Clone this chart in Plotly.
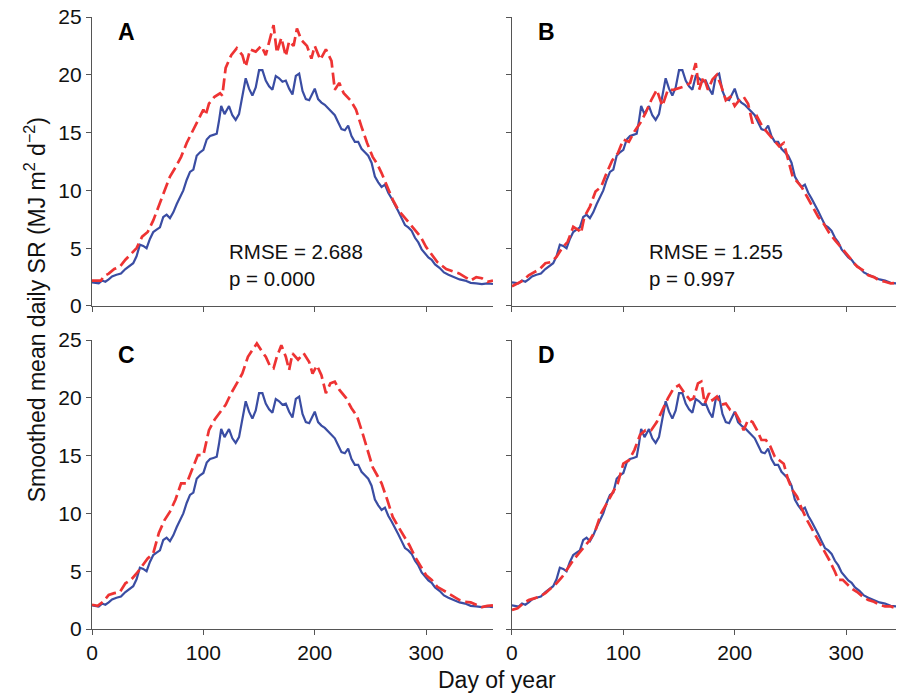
import plotly.graph_objects as go
from plotly.subplots import make_subplots

# observed smoothed daily SR (same in every panel)
obs_days = [0, 3, 6, 9, 12, 15, 18, 22, 26, 30, 34, 37, 40, 43, 46, 49, 52, 55, 58, 61,
            64, 67, 70, 73, 76, 79, 82, 85, 88, 91, 94, 97, 100, 103, 106, 109, 112, 114,
            116, 119, 121, 123, 126, 129, 132, 135, 138, 141, 144, 147, 150, 153, 156,
            159, 162, 165, 168, 171, 174, 177, 180, 183, 186, 189, 192, 195, 198, 200,
            203, 206, 209, 212, 215, 218, 221, 224, 227, 230, 233, 236, 239, 242, 245,
            248, 251, 254, 257, 260, 263, 266, 269, 272, 275, 278, 281, 284, 287, 290,
            293, 296, 299, 302, 305, 308, 312, 316, 320, 325, 330, 335, 340, 345, 350,
            355, 360]
obs_sr = [2.05, 2.0, 1.95, 2.2, 2.1, 2.3, 2.55, 2.7, 2.8, 3.2, 3.5, 3.7, 4.3, 5.3, 5.2,
          5.0, 5.8, 6.4, 6.6, 6.8, 7.7, 7.9, 7.6, 8.1, 8.8, 9.4, 10.0, 10.9, 11.6, 11.8,
          13.0, 13.3, 13.5, 14.4, 14.7, 14.8, 14.9, 16.0, 17.3, 16.6, 16.9, 17.3, 16.5,
          16.1, 16.6, 18.0, 19.7, 18.8, 18.2, 18.9, 20.4, 20.4, 19.5, 19.0, 18.7, 19.9,
          19.7, 19.4, 19.5, 18.8, 18.3, 19.9, 20.1, 18.6, 17.9, 17.8, 18.5, 18.8, 17.9,
          17.6, 17.4, 17.1, 16.8, 16.5, 15.9, 15.3, 15.2, 15.6, 14.7, 14.2, 14.2, 13.6,
          13.3, 13.0, 12.4, 11.2, 10.7, 10.3, 10.5, 9.8, 9.3, 8.8, 8.2, 7.6, 7.0, 6.8,
          6.5, 5.9, 5.5, 4.9, 4.5, 4.2, 4.0, 3.6, 3.3, 2.9, 2.7, 2.5, 2.3, 2.2, 2.0,
          1.95, 1.9, 1.95, 1.9]

# modelled series, one per panel
days_a = [0, 4, 8, 11, 15, 20, 25, 30, 35, 40, 45, 50, 55, 60, 65, 70, 75, 80, 85, 90,
          95, 100, 102, 105, 110, 115, 117, 120, 125, 130, 135, 138, 142, 147, 152, 156,
          160, 163, 166, 170, 174, 177, 181, 184, 188, 193, 197, 200, 205, 210, 215, 218,
          222, 226, 232, 237, 242, 247, 252, 256, 260, 265, 270, 275, 280, 285, 290, 295,
          300, 305, 310, 318, 325, 330, 335, 340, 345, 350, 355, 360]
mod_a = [2.2, 2.2, 2.2, 2.6, 2.8, 3.2, 3.4, 4.0, 4.5, 5.0, 6.0, 6.4, 7.4, 8.7, 9.9, 11.2,
         12.0, 12.9, 14.1, 15.1, 16.1, 17.0, 16.5, 17.5, 18.1, 18.4, 18.2, 20.6, 21.7,
         22.3, 21.7, 20.7, 22.2, 22.0, 22.5, 21.7, 23.2, 24.3, 21.9, 23.2, 21.6, 22.9,
         22.5, 24.0, 23.0, 22.5, 21.4, 22.5, 21.3, 22.2, 21.2, 18.7, 19.3, 18.4, 17.8,
         17.0, 15.5, 14.1, 12.9, 12.3, 11.5, 10.3, 9.2, 8.3, 7.7, 7.1, 6.6, 6.0, 5.1,
         4.4, 3.8, 3.2, 2.95, 2.8, 2.5, 2.2, 2.5, 2.4, 2.1, 2.2]

days_b = [0, 5, 10, 15, 20, 25, 30, 35, 40, 45, 50, 55, 60, 62, 65, 70, 75, 80, 85, 90,
          95, 100, 105, 110, 115, 120, 125, 130, 135, 140, 145, 150, 155, 160, 165, 168,
          172, 176, 180, 184, 188, 192, 196, 200, 204, 208, 212, 216, 220, 225, 230, 235,
          240, 244, 248, 252, 256, 260, 265, 270, 275, 280, 285, 290, 295, 300, 305, 310,
          315, 320, 325, 330, 335, 340, 345, 350, 355, 360]
mod_b = [1.7, 1.95, 2.2, 2.65, 2.95, 3.2, 3.7, 3.8, 4.25, 5.0, 5.55, 6.85, 6.55, 6.3,
         7.7, 8.6, 9.9, 10.3, 11.5, 12.6, 13.2, 14.4, 14.2, 15.1, 15.8, 16.7, 17.8, 18.7,
         17.3, 18.7, 18.7, 18.85, 19.0, 19.3, 21.0, 18.7, 19.85, 18.7, 19.6, 20.0, 19.0,
         17.8, 18.1, 17.3, 17.8, 18.1, 17.5, 15.8, 16.4, 15.5, 14.9, 14.4, 13.8, 14.1,
         12.6, 11.2, 10.75, 10.3, 9.45, 8.6, 7.7, 7.1, 6.3, 5.7, 5.1, 4.55, 3.95, 3.4,
         3.1, 2.65, 2.5, 2.2, 2.1, 1.95, 2.0, 2.2, 2.0, 1.9]

days_c = [0, 5, 10, 15, 20, 25, 30, 35, 40, 45, 50, 55, 60, 65, 70, 75, 80, 85, 90, 95,
          100, 105, 110, 115, 120, 125, 130, 135, 140, 145, 148, 152, 156, 160, 163, 166,
          170, 174, 177, 180, 185, 190, 195, 198, 202, 206, 210, 214, 218, 222, 228, 233,
          238, 243, 248, 252, 256, 260, 265, 270, 275, 280, 285, 290, 295, 300, 305, 310,
          318, 325, 330, 335, 340, 345, 350, 355, 360]
mod_c = [2.1, 2.0, 2.35, 2.95, 3.1, 3.2, 3.95, 4.25, 4.8, 5.4, 6.1, 6.55, 8.3, 9.4,
         10.15, 11.2, 12.6, 12.6, 13.75, 15.05, 15.05, 17.2, 18.1, 18.8, 19.4, 20.4,
         21.25, 22.1, 23.55, 24.3, 24.7, 24.1, 23.55, 22.7, 22.55, 23.55, 24.55, 23.55,
         22.4, 23.85, 23.3, 23.85, 23.1, 22.1, 22.8, 21.95, 20.4, 21.25, 21.4, 20.7,
         20.0, 19.1, 18.4, 16.9, 15.2, 14.0, 13.3, 12.6, 11.2, 9.7, 8.85, 8.0, 7.25,
         6.25, 5.4, 4.65, 4.25, 3.65, 3.2, 2.8, 2.5, 2.35, 2.3, 2.1, 1.9, 2.0, 2.05]

days_d = [0, 5, 10, 15, 20, 25, 30, 35, 40, 45, 50, 55, 60, 65, 70, 75, 80, 85, 90, 95,
          100, 105, 110, 115, 120, 125, 130, 135, 140, 145, 150, 155, 160, 163, 167, 170,
          173, 177, 180, 184, 188, 192, 196, 200, 204, 208, 212, 216, 220, 224, 228, 232,
          236, 240, 244, 248, 252, 256, 260, 265, 270, 275, 280, 285, 290, 293, 297, 300,
          305, 310, 315, 320, 325, 330, 335, 340, 345, 350, 355, 360]
mod_d = [1.65, 1.8, 2.2, 2.5, 2.65, 2.8, 3.1, 3.5, 3.95, 4.5, 5.25, 5.95, 6.55, 7.1, 7.7,
         8.55, 10.0, 10.85, 11.7, 12.6, 14.3, 14.6, 15.5, 16.8, 17.2, 17.2, 17.9, 18.95,
         19.95, 20.8, 21.1, 20.4, 19.8, 19.95, 21.25, 21.4, 19.5, 20.4, 19.8, 20.1, 19.4,
         19.5, 18.95, 18.8, 18.1, 17.2, 18.1, 17.9, 17.2, 16.35, 16.35, 15.8, 14.9, 14.6,
         14.3, 12.9, 12.0, 11.45, 10.45, 9.4, 8.55, 7.7, 6.85, 5.95, 4.95, 4.25, 4.25,
         3.95, 3.5, 3.2, 2.8, 2.5, 2.35, 2.1, 1.95, 1.95, 1.8, 1.65, 1.6, 1.6]

panels = ["A", "B", "C", "D"]
models = [(days_a, mod_a), (days_b, mod_b), (days_c, mod_c), (days_d, mod_d)]
stats = {"A": ("2.688", "0.000"), "B": ("1.255", "0.997")}

BLUE = "#3a4da3"
RED = "#ee3333"
AXIS = "#555555"
FONT = "Liberation Sans, Arial, sans-serif"

fig = make_subplots(rows=2, cols=2)

for i, name in enumerate(panels):
    r, c = i // 2 + 1, i % 2 + 1
    fig.add_trace(go.Scatter(x=obs_days, y=obs_sr, mode="lines",
                             line=dict(color=BLUE, width=2.2), showlegend=False),
                  row=r, col=c)
    d, m = models[i]
    fig.add_trace(go.Scatter(x=d, y=m, mode="lines",
                             line=dict(color=RED, width=2.7, dash="12px,5px"),
                             showlegend=False),
                  row=r, col=c)

xdom = [[0, 0.4938], [0.5172, 1]]
ydom = [[0.5278, 1], [0, 0.4722]]
for i, name in enumerate(panels):
    r, c = i // 2, i % 2
    n = "" if i == 0 else str(i + 1)
    fig.layout["xaxis" + n].update(
        domain=xdom[c], range=[0, 360] if c == 0 else [0, 352],
        tickvals=[0, 100, 200, 300], showticklabels=(r == 1),
        ticks="outside", ticklen=5, tickcolor=AXIS, tickwidth=1.2,
        showline=True, linecolor=AXIS, linewidth=1.3,
        showgrid=False, zeroline=False, automargin=False,
        ticklabeloverflow="allow",
        tickfont=dict(size=21, color="#111", family=FONT))
    fig.layout["yaxis" + n].update(
        domain=ydom[r], range=[0, 25],
        tickvals=[0, 5, 10, 15, 20, 25], showticklabels=(c == 0),
        ticks="outside", ticklen=5, tickcolor=AXIS, tickwidth=1.2,
        showline=True, linecolor=AXIS, linewidth=1.3,
        showgrid=False, zeroline=False, automargin=False,
        ticklabeloverflow="allow",
        tickfont=dict(size=21, color="#111", family=FONT))
    xref = "x" + n
    yref = "y" + n
    fig.add_annotation(x=31, y=23.7, xref=xref, yref=yref, text="<b>" + name + "</b>",
                       xanchor="center", yanchor="middle",
                       showarrow=False, font=dict(size=23, color="#000", family=FONT))
    if name in stats:
        rmse, p = stats[name]
        fig.add_annotation(x=121, y=3.55, xref=xref, yref=yref, xanchor="left",
                           yanchor="middle", align="left", showarrow=False,
                           text="RMSE = " + rmse + "<br>p = " + p,
                           font=dict(size=20.5, color="#111", family=FONT))

# axis titles
fig.add_annotation(x=-0.070, y=0.521, xref="paper", yref="paper", textangle=-90,
                   xanchor="center", yanchor="middle",
                   text="Smoothed mean daily SR (MJ m<sup>2</sup> d<sup>\u22122</sup>)",
                   showarrow=False, font=dict(size=23, color="#111", family=FONT))
fig.add_annotation(x=0.499, y=-0.083, xref="paper", yref="paper",
                   xanchor="center", yanchor="middle",
                   text="Day of year", showarrow=False,
                   font=dict(size=23, color="#111", family=FONT))

# page body has an 8px margin, so the figure is offset by 8px
fig.update_layout(width=896, height=686,
                  margin=dict(l=84, r=0, t=9, b=65, autoexpand=False),
                  paper_bgcolor="white", plot_bgcolor="white",
                  font=dict(family=FONT))

fig.write_html("out.html")
